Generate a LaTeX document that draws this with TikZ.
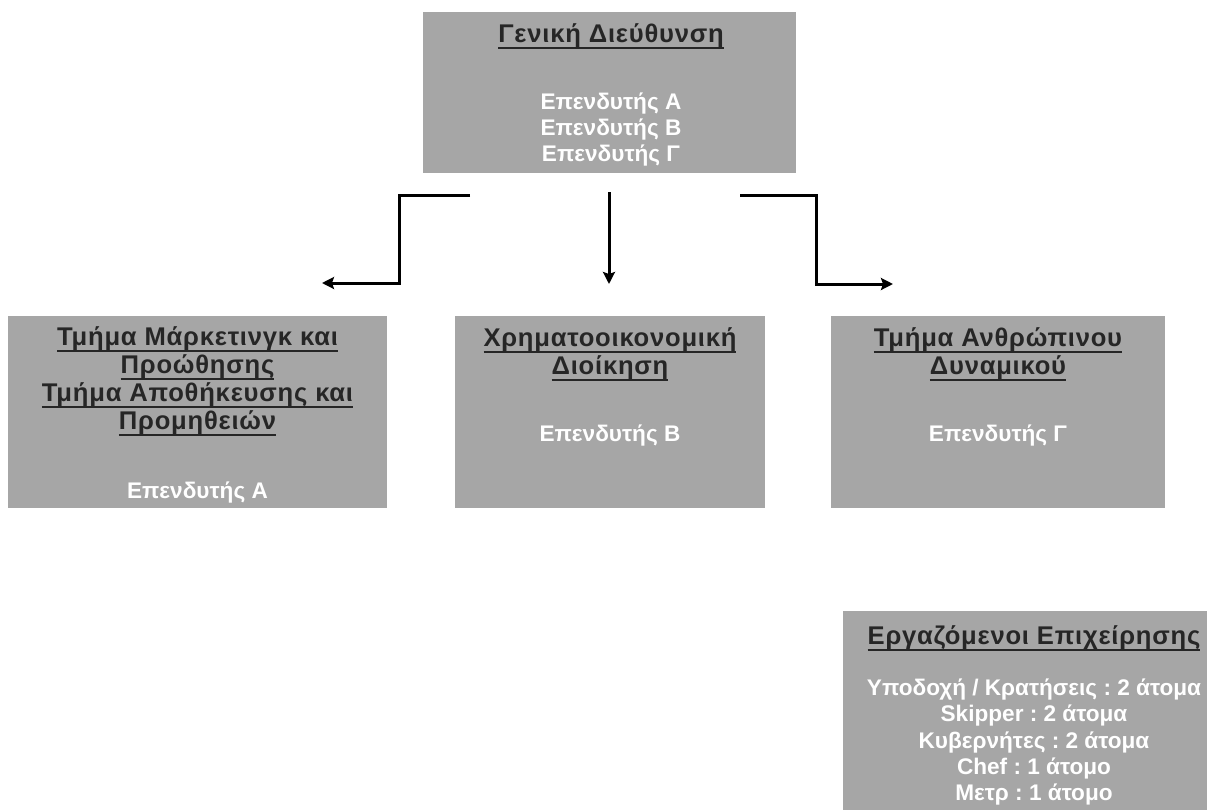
\documentclass[tikz,border=0pt]{standalone}
\usepackage{fontspec}
\setmainfont{Liberation Sans}
\newfontfamily\hdrfont[LetterSpace=3]{Liberation Sans}
\usetikzlibrary{arrows.meta,positioning}
\definecolor{boxgray}{HTML}{A6A6A6}
\definecolor{hdrtext}{HTML}{262626}
\newsavebox{\hdrbox}
\newcommand{\hdr}[1]{{\hdrfont\bfseries\fontsize{12.8}{14}\selectfont\color{hdrtext}%
  \sbox{\hdrbox}{#1}\rlap{\rule[-3.3pt]{\wd\hdrbox}{1pt}}\usebox{\hdrbox}}}

\begin{document}
\frenchspacing
\begin{tikzpicture}[x=0.5pt,y=-0.5pt,
  orgbox/.style={fill=boxgray, inner sep=0pt},
  boxtext/.style={anchor=north, align=center, inner sep=0pt, text=white,
    font=\fontsize{11.3}{13}\selectfont\bfseries},
  linkarrow/.style={line width=1.5pt, -{Stealth[length=6pt,width=6pt,inset=1pt]}}]
\useasboundingbox (0,0) rectangle (1207,810);
\clip (0,0) rectangle (1207,810);

% boxes
\node[orgbox, minimum width=186.5pt, minimum height=80.5pt] (gd) at (609.5,92.5) {};
\node[orgbox, minimum width=189.5pt, minimum height=96pt] (mk) at (197.5,412) {};
\node[orgbox, minimum width=155pt, minimum height=96pt] (fn) at (610,412) {};
\node[orgbox, minimum width=167pt, minimum height=96pt] (hr) at (998,412) {};
\node[orgbox, minimum width=192pt, minimum height=120pt] (staff) at (1035,731) {};

% texts
\node[boxtext] (gdtxt) at (611,23) {\hdr{Γενική Διεύθυνση}\\[20.5pt]
  Επενδυτής Α\\ Επενδυτής Β\\ Επενδυτής Γ};
\node[boxtext] (mktxt) at (197.5,326) {\hdr{Τμήμα Μάρκετινγκ και}\\[1pt]
  \hdr{Προώθησης}\\[1pt] \hdr{Τμήμα Αποθήκευσης και}\\[1pt] \hdr{Προμηθειών}\\[21.5pt]
  Επενδυτής Α};
\node[boxtext] (fntxt) at (610,327) {\hdr{Χρηματοοικονομική}\\[1pt]
  \hdr{Διοίκηση}\\[20.5pt] Επενδυτής Β};
\node[boxtext] (hrtxt) at (998,327) {\hdr{Τμήμα Ανθρώπινου}\\[1pt]
  \hdr{Δυναμικού}\\[20.5pt] Επενδυτής Γ};
\node[boxtext] (stafftxt) at (1034,625) {\hdr{Εργαζόμενοι Επιχείρησης}\\[12.5pt]
  Υποδοχή / Κρατήσεις : 2 άτομα\\[0.2pt] Skipper : 2 άτομα\\[0.2pt]
  Κυβερνήτες : 2 άτομα\\[0.2pt] Chef : 1 άτομο\\[0.2pt] Μετρ : 1 άτομο};

% connectors
\coordinate (gdL) at (470,195);
\coordinate (mkT) at (322,283);
\coordinate (gdM) at (609,192);
\coordinate (fnT) at (609,284);
\coordinate (gdR) at (740,195);
\coordinate (hrT) at (893,284);
\draw[linkarrow] (gdL) -- ++(-71,0) |- (mkT);
\draw[linkarrow] (gdM) -- (fnT);
\draw[linkarrow] (gdR) -- ++(76,0) |- (hrT);
\end{tikzpicture}
\end{document}
